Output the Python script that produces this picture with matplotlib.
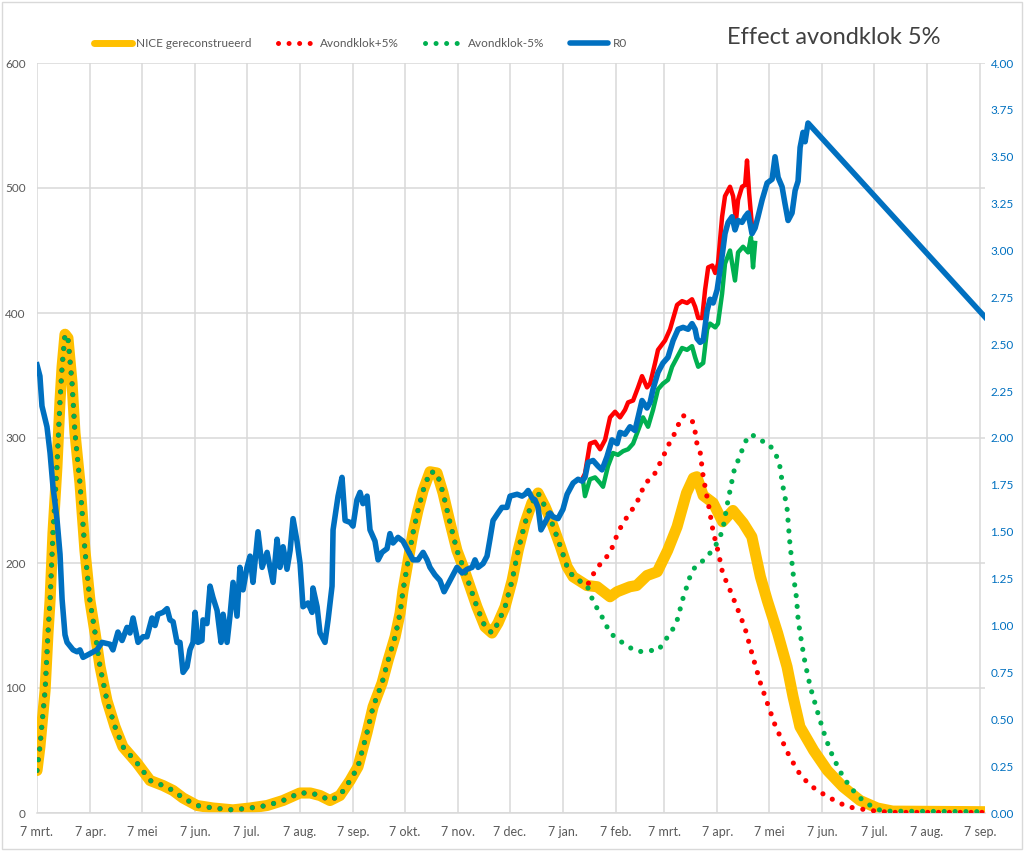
import numpy as np
import pandas as pd
import matplotlib
matplotlib.use("Agg")
import matplotlib.pyplot as plt
from matplotlib.lines import Line2D

plt.rcParams["font.family"] = ["Lato", "DejaVu Sans"]

# dagen sinds 7 maart 2020
nice_dag = [0, 1.7, 3.5, 4.7, 6.4, 7.6, 9.3, 11.6, 13.4, 14.6,
            16.3, 18, 20.4, 22.1, 25, 27.9, 30.8, 33.8, 36.7, 40.7,
            45.4, 50, 58.2, 65.8, 73.3, 79.2, 85, 93.1, 102.4, 114,
            124, 133.9, 143.2, 153, 159, 164.7, 170.5, 176.3, 182.2, 186.8,
            192, 195.6, 200.8, 204.3, 208.4, 211.3, 213, 216, 218.8, 221.7,
            224.7, 228.7, 232.8, 236.3, 240.4, 244.4, 248, 252, 256, 260.7,
            264.8, 268.3, 272.4, 276.5, 280, 284, 288, 291.6, 295.7, 299.7,
            304.4, 308.5, 312, 320, 326, 333.5, 337.6, 345, 349, 355,
            361, 367, 372.5, 378, 382, 384, 387.7, 393.5, 399, 405,
            411, 416, 421, 425, 431, 436.5, 440, 444, 452, 460,
            469, 479, 489, 498, 553]
nice = [34, 53, 80, 98, 144, 170, 224, 277, 330, 357,
        383, 380, 344, 304, 264, 210, 170, 144, 117, 90,
        69, 53, 40, 26, 22, 18, 12, 6, 4, 2.5,
        4, 6, 10, 16, 16, 14, 10, 14, 26, 37,
        64, 85, 104, 122, 141, 160, 178, 202, 224, 242,
        258, 273, 272, 256, 232, 210, 197, 181, 165, 149,
        144, 152, 165, 186, 210, 232, 248, 256, 245, 232,
        214, 197, 189, 182, 181, 173, 177, 181, 182, 190,
        193, 210, 229, 256, 268, 269, 254, 248, 233, 242,
        232, 221, 189, 170, 144, 117, 93, 69, 50, 34,
        21, 10, 4, 1.5, 1]

# scenario's volgen NICE tot 320 dagen (index 74)
plus_dag = [322, 324.8, 328.9, 333.5, 338, 341, 345, 349, 354, 358.6,
            361.5, 364.4, 367.3, 370.2, 373, 376, 381.3, 383, 384, 386,
            387.7, 391, 393.5, 396.6, 399, 403.4, 407.5, 412, 416.8, 421,
            425, 429.6, 433.6, 438, 444, 450, 460, 471.5, 485, 496.5, 553]
plus = [186, 194, 201, 208, 224, 232, 240, 248, 264, 269,
        277, 285, 294, 301, 310, 318, 314, 305, 296, 288,
        269, 245, 225, 208, 192, 178, 164, 148, 124, 104,
        88, 70, 58, 45, 31, 22, 13, 5, 2, 0.5, 0.5]

min_dag = [322, 323.6, 327.7, 333.5, 339, 344, 350, 355.7, 361.5, 365.5,
           369.6, 372.5, 376, 380, 383, 387.7, 391.7, 395.8, 399, 402,
           404.5, 406, 409, 411, 414, 416.8, 421, 425.5, 429.6, 432,
           434, 436.5, 438, 440, 442, 443, 445, 447, 450, 454,
           457.5, 461.6, 467, 473, 479, 486, 492, 553]
minus = [176, 169, 160, 144, 138, 133, 129, 130, 130, 138,
         146, 154, 172, 189, 197, 202, 208, 216, 226, 249,
         266, 276, 285, 293, 302, 302, 298, 296, 288, 280,
         262, 244, 218, 192, 172, 154, 136, 120, 101, 82,
         66, 50, 34, 21, 12, 5, 1.5, 1]

r0_dag = [0, 1.7, 2.9, 5.8, 7.6, 9.3, 11.6, 13.4, 14.6, 16.3,
          17.5, 21.0, 23.3, 25.0, 26.8, 30.8, 34.9, 37.8, 42.5, 44.2,
          47.1, 49.5, 52.4, 54.1, 55.9, 58.8, 61.7, 64.0, 66.9, 68.7,
          70.4, 73.3, 75.7, 77.4, 79.2, 81.5, 83.2, 85.0, 87.3, 89.0,
          90.8, 92.0, 93.7, 96.0, 96.6, 98.9, 100.7, 102.4, 104.8, 107.1,
          108.3, 110.6, 112.3, 114.1, 116.4, 118.1, 119.9, 122.2, 124.0, 125.7,
          128.6, 131.0, 133.9, 135.6, 137.4, 139.7, 141.4, 143.2, 145.5, 147.3,
          149.0, 151.3, 153.1, 154.8, 157.7, 160.1, 160.6, 163.0, 164.7, 167.6,
          169.4, 171.7, 172.3, 175.2, 177.5, 179.3, 182.2, 183.9, 186.2, 188.0,
          189.7, 192.1, 193.8, 196.7, 198.5, 200.8, 203.7, 205.4, 207.2, 210.1,
          213.0, 215.9, 218.8, 221.7, 224.7, 227.0, 228.7, 231.6, 234.5, 236.9,
          239.2, 242.1, 244.4, 247.4, 250.3, 253.2, 254.9, 256.7, 259.6, 261.9,
          263.6, 265.4, 268.3, 270.6, 273.5, 275.3, 279.4, 282.3, 284.0, 285.8,
          288.1, 289.8, 291.6, 293.3, 295.7, 298.6, 300.3, 303.2, 306.1, 308.5,
          312.0, 314.9, 317.2, 318.9, 320.7, 323.6, 326.5, 328.8, 331.7, 334.6,
          337.6, 339.3, 342.2, 345.1, 348.0, 349.8, 352.1, 355.0, 356.8, 358.5,
          361.4, 364.3, 367.2, 370.2, 373.1, 376.0, 378.9, 381.2, 383.0, 384.1,
          385.9, 387.7, 390.0, 391.7, 393.5, 395.8, 398.7, 400.4, 402.2, 404.5,
          406.2, 408.0, 410.3, 412.1, 413.8, 416.1, 417.9, 419.6, 422.0, 424.9,
          427.8, 429.5, 431.3, 433.6, 435.3, 437.1, 439.4, 441.2, 442.9, 444.1,
          445.8, 447.0, 448.7, 551.7]
r0 = [2.39, 2.33, 2.17, 2.06, 1.92, 1.74, 1.57, 1.38, 1.14, 0.95,
      0.91, 0.87, 0.86, 0.87, 0.83, 0.85, 0.87, 0.91, 0.90, 0.87,
      0.965, 0.92, 0.99, 0.96, 1.04, 0.91, 0.94, 0.94, 1.04, 1.00,
      1.06, 1.07, 1.09, 1.03, 1.02, 0.91, 0.91, 0.75, 0.78, 0.87,
      0.91, 1.07, 0.91, 0.92, 1.03, 1.01, 1.21, 1.15, 1.08, 0.91,
      1.06, 0.91, 1.05, 1.23, 1.05, 1.31, 1.19, 1.31, 1.37, 1.23,
      1.50, 1.31, 1.39, 1.31, 1.23, 1.46, 1.31, 1.42, 1.30, 1.40,
      1.57, 1.45, 1.33, 1.10, 1.12, 1.07, 1.20, 1.10, 0.96, 0.91,
      1.03, 1.21, 1.51, 1.69, 1.79, 1.56, 1.55, 1.53, 1.67, 1.71,
      1.65, 1.69, 1.51, 1.45, 1.35, 1.39, 1.41, 1.49, 1.44, 1.47,
      1.45, 1.40, 1.35, 1.35, 1.39, 1.35, 1.31, 1.27, 1.24, 1.18,
      1.22, 1.27, 1.31, 1.28, 1.30, 1.31, 1.35, 1.31, 1.33, 1.37,
      1.46, 1.56, 1.60, 1.63, 1.63, 1.69, 1.70, 1.69, 1.70, 1.72,
      1.68, 1.67, 1.63, 1.51, 1.55, 1.60, 1.58, 1.57, 1.62, 1.70,
      1.76, 1.78, 1.77, 1.79, 1.87, 1.88, 1.85, 1.83, 1.90, 1.99,
      1.97, 2.03, 2.02, 2.06, 2.04, 2.11, 2.20, 2.16, 2.19, 2.26,
      2.35, 2.40, 2.43, 2.52, 2.58, 2.59, 2.58, 2.61, 2.58, 2.53,
      2.51, 2.52, 2.68, 2.74, 2.72, 2.79, 2.97, 3.09, 3.15, 3.18,
      3.11, 3.16, 3.15, 3.18, 3.20, 3.09, 3.12, 3.18, 3.27, 3.36,
      3.38, 3.50, 3.39, 3.34, 3.25, 3.16, 3.20, 3.32, 3.37, 3.55,
      3.63, 3.58, 3.68, 2.645]

r0_plus_dag = [317.8, 318.9, 321.8, 324.8, 327.7, 330.6, 333.5, 336.4, 339.3, 342.2,
               344.0, 346.9, 349.8, 352.1, 355.0, 356.8, 359.7, 361.4, 365.5, 368.4,
               372.5, 375.4, 378.3, 381.2, 383.0, 384.8, 387.1, 388.8, 390.6, 393.0,
               394.7, 396.3, 398.7, 400.4, 403.3, 405.1, 406.8, 408.0, 410.3, 412.1,
               413.2, 414.4, 416.1]
r0_plus = [1.79, 1.81, 1.97, 1.98, 1.94, 1.99, 2.11, 2.14, 2.11, 2.15,
           2.19, 2.20, 2.27, 2.33, 2.27, 2.29, 2.40, 2.47, 2.52, 2.58,
           2.71, 2.73, 2.72, 2.74, 2.70, 2.64, 2.64, 2.79, 2.91, 2.92,
           2.88, 2.93, 3.18, 3.29, 3.34, 3.29, 3.16, 3.27, 3.34, 3.35,
           3.48, 3.31, 3.13]

r0_min_dag = [317.8, 318.9, 321.8, 324.8, 327.7, 329.4, 332.3, 335.2, 338.1, 341.1,
              344.0, 346.9, 349.8, 352.7, 355.6, 358.5, 361.4, 364.3, 367.2, 369.6,
              372.5, 375.4, 378.3, 381.2, 383.0, 384.8, 387.7, 390.0, 391.7, 394.7,
              396.3, 398.7, 400.4, 403.3, 406.2, 408.0, 410.9, 413.8, 415.5, 416.7,
              417.9]
r0_min = [1.77, 1.69, 1.78, 1.79, 1.76, 1.74, 1.85, 1.92, 1.91, 1.93,
          1.94, 1.97, 2.04, 2.11, 2.06, 2.15, 2.26, 2.29, 2.31, 2.38,
          2.43, 2.48, 2.47, 2.49, 2.43, 2.38, 2.40, 2.58, 2.61, 2.59,
          2.61, 2.77, 2.93, 3.00, 2.84, 2.99, 3.02, 2.99, 3.07, 2.91,
          3.04]

maanden = {1: "jan.", 2: "feb.", 3: "mrt.", 4: "apr.", 5: "mei", 6: "jun.",
           7: "jul.", 8: "aug.", 9: "sep.", 10: "okt.", 11: "nov.", 12: "dec."}

start = pd.Timestamp("2020-03-07")
tick_data = pd.date_range("2020-03-07", "2021-09-07", freq=pd.DateOffset(months=1))
tick_pos = [(d - start).days for d in tick_data]
tick_lab = [f"7 {maanden[d.month]}" for d in tick_data]

GEEL = "#FFC000"
ROOD = "#FF0000"
GROEN = "#00B050"
BLAUW = "#0070C0"
GRIJS = "#595959"

fig = plt.figure(figsize=(10.24, 8.51), dpi=100)
ax = fig.add_axes([37 / 1024, 1 - 813 / 851, 948 / 1024, 750 / 851])
ax2 = ax.twinx()

dots = (0, (0.01, 2.1))
ax.plot(nice_dag, nice, color=GEEL, lw=8, solid_capstyle="round",
        solid_joinstyle="round", zorder=2)
ax.plot(nice_dag[:74] + plus_dag, nice[:74] + plus, color=ROOD, lw=3.7,
        linestyle=dots, dash_capstyle="round", zorder=3)
ax.plot(nice_dag[:74] + min_dag, nice[:74] + minus, color=GROEN, lw=3.7,
        linestyle=dots, dash_capstyle="round", zorder=4)

ax2.plot(r0_plus_dag, r0_plus, color=ROOD, lw=3.2, zorder=2)
ax2.plot(r0_min_dag, r0_min, color=GROEN, lw=3.2, zorder=3)
ax2.plot(r0_dag, r0, color=BLAUW, lw=4, solid_joinstyle="round", zorder=4)

ax.set_xlim(0, 551.7)
ax.set_ylim(0, 600)
ax2.set_ylim(0, 4)
ax.set_yticks(np.arange(0, 601, 100))
ax2.set_yticks(np.arange(0, 4.01, 0.25))
ax2.set_yticklabels([f"{v:.2f}" for v in np.arange(0, 4.01, 0.25)])
ax.set_xticks(tick_pos)
ax.set_xticklabels(tick_lab)

ax.grid(True, color="#D9D9D9", lw=1.1)
ax.set_axisbelow(True)
for a in (ax, ax2):
    for s in a.spines.values():
        s.set_visible(False)
ax.spines["bottom"].set_visible(True)
ax.spines["bottom"].set_color("#D9D9D9")
ax.spines["bottom"].set_linewidth(1.1)

ax.tick_params(axis="x", length=0, labelsize=9, colors=GRIJS, pad=9)
ax.tick_params(axis="y", length=0, labelsize=8.5, colors=GRIJS, pad=8)
ax2.tick_params(axis="y", length=0, labelsize=8.5, colors=BLAUW, pad=4)

handles = [
    Line2D([], [], color=GEEL, lw=5, solid_capstyle="round"),
    Line2D([], [], color=ROOD, lw=3.6, linestyle=dots, dash_capstyle="round"),
    Line2D([], [], color=GROEN, lw=3.6, linestyle=dots, dash_capstyle="round"),
    Line2D([], [], color=BLAUW, lw=4, solid_capstyle="round"),
]
labels = ["NICE gereconstrueerd", "Avondklok+5%", "Avondklok-5%", "R0"]
leg = fig.legend(handles, labels, loc="center", bbox_to_anchor=(0.352, 0.949),
                 ncol=4, frameon=False, fontsize=8.5, handlelength=3.2,
                 columnspacing=2.2, handletextpad=0.4)
for t in leg.get_texts():
    t.set_color(GRIJS)

fig.text(0.71, 0.956, "Effect avondklok 5%", fontsize=17, color="#404040",
         va="center", ha="left")

fig.patches.append(plt.Rectangle((0.002, 0.002), 0.996, 0.996, transform=fig.transFigure,
                                 fill=False, edgecolor="#D9D9D9", lw=1))

fig.savefig("out.png", dpi=100)
